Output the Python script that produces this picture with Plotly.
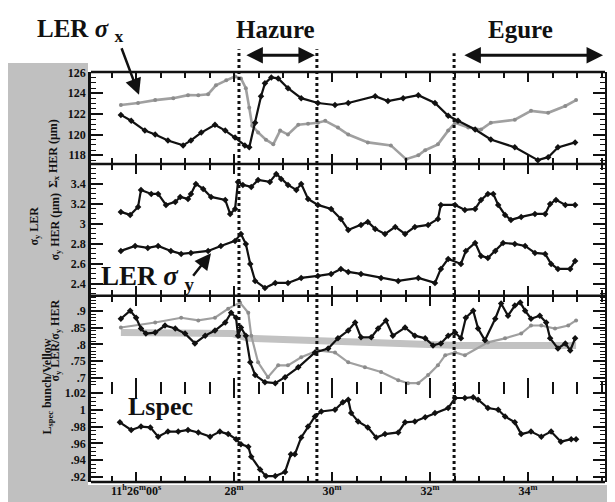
import plotly.graph_objects as go

# ---------------- data (time in minutes after 11h00m) ----------------
# Panel 1: horizontal beam size
t_sx_ler = [25.69, 26.04, 26.39, 26.76, 27.06, 27.27, 27.47, 27.63, 27.84, 28.02, 28.14, 28.24, 28.31, 28.37,
            28.49, 28.65, 28.80, 28.94, 29.10, 29.31, 29.51, 29.71, 29.86, 30.12, 30.33, 30.73, 31.20, 31.51,
            31.76, 31.90, 32.16, 32.37, 32.51, 32.78, 33.04, 33.24, 33.73, 34.06, 34.41, 34.76, 34.98]
sx_ler = [122.86, 123.05, 123.33, 123.52, 123.81, 123.8, 123.9, 124.76, 125.24, 125.62, 125.43, 124.48, 122.6,
          120.86, 120.2, 119.5, 119.05, 120.38, 120.0, 120.95, 121.05, 121.14, 121.33, 120.67, 120.0, 119.24,
          118.95, 117.62, 118.0, 118.48, 119.05, 120.38, 121.14, 120.67, 120.48, 121.14, 121.43, 122.29, 122.1,
          122.76, 123.33]

t_sx_her = [25.69, 25.90, 26.18, 26.39, 26.65, 26.96, 27.12, 27.33, 27.61, 27.82, 28.02, 28.22, 28.31, 28.43,
            28.55, 28.63, 28.76, 28.90, 29.10, 29.37, 29.71, 30.06, 30.33, 30.88, 31.14, 31.45, 31.76, 32.10,
            32.37, 32.57, 32.92, 33.24, 33.73, 34.20, 34.41, 34.61, 34.96]
sx_her = [121.9, 121.33, 120.38, 120.0, 119.43, 118.95, 119.43, 120.19, 120.95, 120.38, 119.71, 118.95, 118.76,
          121.14, 123.71, 124.95, 125.52, 125.43, 124.48, 123.52, 123.05, 122.86, 123.05, 123.71, 123.24, 123.52,
          123.81, 123.05, 121.81, 121.33, 120.48, 119.52, 118.76, 117.52, 117.81, 118.76, 119.24]

# Panel 2: vertical beam sizes (um)
t_sy_her = [25.69, 25.88, 26.04, 26.10, 26.31, 26.45, 26.61, 26.80, 26.90, 27.06, 27.12, 27.22, 27.37, 27.53,
            27.82, 27.92, 28.02, 28.08, 28.18, 28.35, 28.49, 28.73, 28.86, 28.96, 29.10, 29.27, 29.37, 29.51,
            29.71, 29.98, 30.18, 30.33, 30.59, 30.73, 30.88, 31.08, 31.29, 31.49, 31.69, 31.96, 32.16, 32.22,
            32.51, 32.71, 32.92, 33.04, 33.18, 33.29, 33.39, 33.53, 33.65, 33.86, 34.14, 34.35, 34.45, 34.57,
            34.76, 34.96]
sy_her = [3.12, 3.09, 3.17, 3.34, 3.30, 3.30, 3.19, 3.22, 3.27, 3.25, 3.30, 3.40, 3.35, 3.27, 3.24, 3.10, 3.15,
          3.42, 3.39, 3.37, 3.44, 3.42, 3.50, 3.45, 3.39, 3.34, 3.40, 3.25, 3.19, 3.15, 3.05, 2.94, 2.99, 3.02,
          2.95, 2.90, 2.97, 2.90, 2.97, 2.99, 3.05, 3.19, 3.19, 3.14, 3.15, 3.24, 3.30, 3.30, 3.19, 3.09, 3.04,
          3.07, 3.10, 3.10, 3.20, 3.24, 3.19, 3.19]

t_sy_ler = [25.69, 25.98, 26.24, 26.45, 26.71, 26.92, 27.12, 27.47, 27.73, 28.02, 28.14, 28.24, 28.33, 28.43,
            28.63, 28.84, 29.10, 29.37, 29.71, 29.98, 30.18, 30.33, 30.59, 31.00, 31.35, 31.76, 32.10, 32.22,
            32.37, 32.63, 32.73, 32.92, 33.04, 33.18, 33.33, 33.49, 33.73, 33.94, 34.14, 34.35, 34.47, 34.61,
            34.86, 34.96]
sy_ler = [2.73, 2.78, 2.76, 2.78, 2.73, 2.70, 2.71, 2.73, 2.78, 2.83, 2.90, 2.80, 2.60, 2.43, 2.36, 2.41, 2.41,
          2.46, 2.48, 2.50, 2.55, 2.52, 2.50, 2.46, 2.43, 2.46, 2.41, 2.55, 2.65, 2.60, 2.73, 2.81, 2.68, 2.66,
          2.73, 2.81, 2.80, 2.78, 2.71, 2.70, 2.60, 2.55, 2.55, 2.63]

# Panel 3: ratios
t_ratio = [25.69, 25.88, 26.00, 26.10, 26.20, 26.39, 26.59, 26.80, 27.00, 27.20, 27.41, 27.61, 27.82, 27.94,
           28.04, 28.08, 28.14, 28.24, 28.33, 28.43, 28.63, 28.84, 29.04, 29.31, 29.65, 29.92, 30.12, 30.33,
           30.47, 30.59, 30.80, 30.94, 31.10, 31.24, 31.49, 31.69, 31.90, 32.06, 32.22, 32.37, 32.51, 32.63,
           32.73, 32.88, 32.98, 33.12, 33.33, 33.45, 33.59, 33.73, 33.84, 33.94, 34.06, 34.24, 34.37, 34.45,
           34.61, 34.76, 34.86, 34.96]
ratio = [0.876, 0.900, 0.879, 0.847, 0.832, 0.835, 0.856, 0.847, 0.832, 0.803, 0.826, 0.841, 0.865, 0.894, 0.879,
         0.826, 0.850, 0.826, 0.747, 0.709, 0.688, 0.685, 0.703, 0.732, 0.776, 0.788, 0.818, 0.841, 0.865, 0.821,
         0.821, 0.847, 0.871, 0.826, 0.850, 0.826, 0.818, 0.797, 0.803, 0.826, 0.835, 0.818, 0.879, 0.900, 0.847,
         0.812, 0.876, 0.921, 0.885, 0.915, 0.924, 0.900, 0.876, 0.885, 0.865, 0.818, 0.788, 0.803, 0.782, 0.818]

t_ratio_grey = [25.69, 26.39, 26.92, 27.27, 27.61, 27.88, 28.12, 28.29, 28.35, 28.49, 28.69, 28.90, 29.10, 29.37,
                29.71, 30.06, 30.33, 30.67, 31.00, 31.35, 31.55, 31.76, 31.96, 32.16, 32.31, 32.51, 32.71, 33.18,
                33.53, 33.86, 34.06, 34.27, 34.55, 34.82, 34.98]
ratio_grey = [0.850, 0.865, 0.879, 0.871, 0.879, 0.906, 0.924, 0.894, 0.826, 0.747, 0.703, 0.738, 0.738, 0.762,
              0.782, 0.776, 0.747, 0.732, 0.718, 0.694, 0.685, 0.685, 0.709, 0.738, 0.768, 0.776, 0.768, 0.806,
              0.818, 0.832, 0.856, 0.856, 0.847, 0.856, 0.871]

t_ratio_band = [25.69, 27.98, 28.29, 30.33, 32.57, 34.98]
ratio_band = [0.835, 0.832, 0.818, 0.806, 0.797, 0.797]

# Panel 4: Lspec
t_lspec = [25.67, 25.90, 26.10, 26.29, 26.45, 26.65, 26.86, 27.06, 27.27, 27.51, 27.71, 27.88, 28.04, 28.14,
           28.29, 28.35, 28.53, 28.65, 28.84, 29.04, 29.16, 29.24, 29.37, 29.51, 29.65, 29.78, 30.06, 30.22,
           30.33, 30.39, 30.53, 30.73, 30.90, 31.08, 31.35, 31.49, 31.69, 31.90, 32.10, 32.37, 32.51, 32.71,
           32.88, 32.98, 33.18, 33.39, 33.53, 33.73, 33.86, 34.06, 34.27, 34.47, 34.67, 34.88, 34.98]
lspec = [0.985, 0.976, 0.980, 0.979, 0.968, 0.974, 0.974, 0.976, 0.973, 0.968, 0.974, 0.971, 0.965, 0.959, 0.956,
         0.944, 0.929, 0.921, 0.921, 0.926, 0.947, 0.947, 0.967, 0.980, 0.992, 0.998, 1.000, 1.009, 1.012, 0.996,
         0.986, 0.979, 0.967, 0.971, 0.973, 0.985, 0.986, 0.991, 0.996, 1.002, 1.014, 1.014, 1.015, 1.012, 1.002,
         1.000, 0.992, 0.985, 0.971, 0.974, 0.968, 0.974, 0.962, 0.965, 0.965]

event_times = [28.1, 29.69, 32.49]
hazure_span = [28.22, 29.65]
egure_span = [32.67, 35.53]

x_tickvals = [26, 28, 30, 32, 34]
x_ticktext = ["11<sup>h</sup>26<sup>m</sup>00<sup>s</sup>", "28<sup>m</sup>", "30<sup>m</sup>",
              "32<sup>m</sup>", "34<sup>m</sup>"]
y1_ticks = [118, 120, 122, 124, 126]
y2_ticks = [2.4, 2.6, 2.8, 3.0, 3.2, 3.4]
y2_text = ["2.4", "2.6", "2.8", "3", "3.2", "3.4"]
y3_ticks = [0.7, 0.75, 0.8, 0.85, 0.9]
y3_text = [".7", ".75", ".8", ".85", ".9"]
y4_ticks = [0.92, 0.94, 0.96, 0.98, 1.0, 1.02]
y4_text = [".92", ".94", ".96", ".98", "1", "1.02"]

# ---------------- layout geometry ----------------
W, H = 615, 502
L, R, T, B = 83, 18, 64, 24
PW, PH = W - L - R, H - T - B


def px(xp):
    return (xp - L) / PW


def py(yp):
    return (H - B - yp) / PH


SERIF = "Liberation Serif"
BLACK = "#111111"
GREY = "#a0a0a0"

fig = go.Figure()


def black_trace(x, y, ax):
    fig.add_trace(go.Scatter(x=x, y=y, xaxis="x" + ax, yaxis="y" + ax, mode="lines+markers",
                             line=dict(color=BLACK, width=2.2),
                             marker=dict(color=BLACK, size=5, symbol="diamond"),
                             showlegend=False, hoverinfo="skip"))


def grey_trace(x, y, ax, width=2.6, size=4):
    fig.add_trace(go.Scatter(x=x, y=y, xaxis="x" + ax, yaxis="y" + ax, mode="lines+markers",
                             line=dict(color=GREY, width=width),
                             marker=dict(color="#8c8c8c", size=size),
                             showlegend=False, hoverinfo="skip"))


grey_trace(t_sx_ler, sx_ler, "")
black_trace(t_sx_her, sx_her, "")
black_trace(t_sy_her, sy_her, "2")
black_trace(t_sy_ler, sy_ler, "2")
fig.add_trace(go.Scatter(x=t_ratio_band, y=ratio_band, xaxis="x3", yaxis="y3", mode="lines",
                         line=dict(color="#c2c2c2", width=7), showlegend=False, hoverinfo="skip"))
grey_trace(t_ratio_grey, ratio_grey, "3", width=2.2)
black_trace(t_ratio, ratio, "3")
black_trace(t_lspec, lspec, "4")

# domains (pixels from top)
d1 = [py(157), 1.0]
d2 = [py(290), py(157)]
d3 = [py(383), py(290)]
d4 = [0.0, py(383)]

xr = [25.08, 35.57]
tickfont = dict(family=SERIF, size=12, color=BLACK, weight="bold")


def xaxis(domain_y_anchor, labels=False):
    return dict(range=xr, domain=[0, 1], anchor=domain_y_anchor, showgrid=False, zeroline=False,
                showline=False, mirror="ticks",
                ticks="inside", ticklen=10, tickwidth=2, tickcolor=BLACK,
                tickvals=x_tickvals, ticktext=x_ticktext, showticklabels=labels, tickfont=tickfont,
                minor=dict(dtick=0.5, tick0=0, ticks="inside", ticklen=6, tickwidth=1.5, tickcolor=BLACK))


def yaxis(domain, rng, tv, tt, minor_dt, anchor):
    return dict(domain=domain, range=rng, anchor=anchor, showgrid=False, zeroline=False,
                showline=True, linecolor=BLACK, linewidth=2.5, mirror="allticks",
                ticks="inside", ticklen=12, tickwidth=1.5, tickcolor=BLACK,
                tickvals=tv, ticktext=tt, tickfont=tickfont,
                minor=dict(dtick=minor_dt, tick0=0, ticks="inside", ticklen=5, tickwidth=1, tickcolor=BLACK))


fig.update_layout(
    width=W, height=H, margin=dict(l=L, r=R, t=T, b=B),
    paper_bgcolor="white", plot_bgcolor="white",
    xaxis=xaxis("y"),
    xaxis2=xaxis("y2"),
    xaxis3=xaxis("y3"),
    xaxis4=xaxis("y4", labels=True),
    yaxis=yaxis(d1, [117.14, 126.05], y1_ticks, [str(v) for v in y1_ticks], 0.5, "x"),
    yaxis2=yaxis(d2, [2.281, 3.598], y2_ticks, y2_text, 0.05, "x2"),
    yaxis3=yaxis(d3, [0.671, 0.944], y3_ticks, y3_text, 0.01, "x3"),
    yaxis4=yaxis(d4, [0.914, 1.026], y4_ticks, y4_text, 0.005, "x4"),
)
for k in ["xaxis2", "xaxis3", "xaxis4"]:
    fig.layout[k].matches = "x"

shapes = []
HALFTONE = "#c0c0c0"
# halftone margins
shapes.append(dict(type="rect", xref="paper", yref="paper", x0=px(0), x1=px(80), y0=py(502), y1=py(55),
                   fillcolor=HALFTONE, line=dict(width=0), layer="below"))
shapes.append(dict(type="rect", xref="paper", yref="paper", x0=px(0), x1=px(615), y0=py(502), y1=py(481),
                   fillcolor=HALFTONE, line=dict(width=0), layer="below"))
shapes.append(dict(type="rect", xref="paper", yref="paper", x0=px(600), x1=px(615), y0=py(502), y1=py(55),
                   fillcolor=HALFTONE, line=dict(width=0), layer="below"))
# panel frame lines (no line between the ratio and Lspec panels)
for yl in [64, 157, 290, 478]:
    shapes.append(dict(type="line", xref="paper", yref="paper", x0=0, x1=1, y0=py(yl), y1=py(yl),
                       line=dict(color=BLACK, width=2.5), layer="above"))
# dotted event lines
tops = [py(41), py(41), py(45)]
for xe, top in zip(event_times, tops):
    shapes.append(dict(type="line", xref="x", yref="paper", x0=xe, x1=xe, y0=0, y1=top,
                       line=dict(color=BLACK, width=3, dash="dot"), layer="above"))
fig.update_layout(shapes=shapes)

ann = []
big = dict(family=SERIF, size=25, color=BLACK, weight="bold")
ann.append(dict(text="LER <i>σ</i> <sub>x</sub>", xref="paper", yref="paper", x=px(72), y=py(22),
                showarrow=False, font=big, xanchor="center", yanchor="middle"))
ann.append(dict(text="", xref="paper", yref="paper", x=px(131), y=py(87), ax=-18, ay=-48,
                showarrow=True, arrowhead=2, arrowsize=1.3, arrowwidth=2.5, arrowcolor=BLACK))
ann.append(dict(text="LER <i>σ</i> <sub>y</sub>", xref="paper", yref="paper", x=px(140), y=py(272),
                showarrow=False, font=dict(family=SERIF, size=27, color=BLACK, weight="bold"),
                xanchor="center", yanchor="middle"))
ann.append(dict(text="", xref="paper", yref="paper", x=px(203), y=py(247), ax=-19, ay=24,
                showarrow=True, arrowhead=2, arrowsize=1.3, arrowwidth=2.5, arrowcolor=BLACK))
ann.append(dict(text="Lspec", xref="paper", yref="paper", x=px(152), y=py(402),
                showarrow=False, font=dict(family=SERIF, size=26, color=BLACK, weight="bold"),
                xanchor="center", yanchor="middle"))
ann.append(dict(text="Hazure", xref="paper", yref="paper", x=px(267), y=py(21),
                showarrow=False, font=big, xanchor="center", yanchor="middle"))
ann.append(dict(text="Egure", xref="paper", yref="paper", x=px(512), y=py(21),
                showarrow=False, font=big, xanchor="center", yanchor="middle"))
arrow_y = (157 - 47) / (157 - 64)  # in panel-1 y-domain units
for span in [hazure_span, egure_span]:
    ann.append(dict(text="", x=span[1], xref="x", y=arrow_y, yref="y domain",
                    ax=span[0], axref="x", ay=arrow_y, ayref="y domain",
                    showarrow=True, arrowside="end+start", arrowhead=2, startarrowhead=2,
                    arrowsize=1.1, startarrowsize=1.1, arrowwidth=3, arrowcolor=BLACK))

small = dict(family=SERIF, size=12, color=BLACK, weight="bold")
ann.append(dict(text="Σ<sub>x</sub> HER (μm)", xref="paper", yref="paper", x=px(36), y=py(110),
                textangle=-90, showarrow=False, font=small))
ann.append(dict(text="σ<sub>y</sub> LER", xref="paper", yref="paper", x=px(17), y=py(220),
                textangle=-90, showarrow=False, font=small))
ann.append(dict(text="σ<sub>y</sub> HER (μm)", xref="paper", yref="paper", x=px(38), y=py(220),
                textangle=-90, showarrow=False, font=small))
ann.append(dict(text="σ<sub>y</sub> LER/σ<sub>y</sub> HER", xref="paper", yref="paper", x=px(38), y=py(335),
                textangle=-90, showarrow=False, font=small))
ann.append(dict(text="L<sub>spec</sub> bunch/Vellow", xref="paper", yref="paper", x=px(30), y=py(432),
                textangle=-90, showarrow=False, font=small))
fig.update_layout(annotations=ann)

fig.write_html("out.html")
